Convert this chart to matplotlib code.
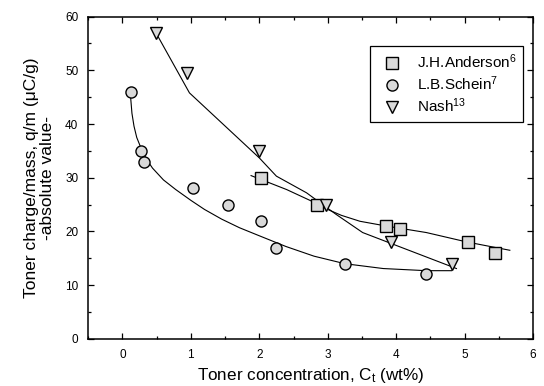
import matplotlib
matplotlib.use('Agg')
import matplotlib.pyplot as plt
from matplotlib.ticker import MultipleLocator

plt.rcParams['font.family'] = ['Liberation Sans', 'DejaVu Sans']
plt.rcParams['mathtext.fontset'] = 'custom'
plt.rcParams['mathtext.rm'] = 'Liberation Sans'
plt.rcParams['mathtext.it'] = 'Liberation Sans'

# measured points
ANDERSON_X = [2.03, 2.84, 3.85, 4.05, 5.05, 5.45]
ANDERSON_Y = [30.0, 25.0, 21.0, 20.5, 18.0, 16.0]
SCHEIN_X = [0.12, 0.27, 0.31, 1.03, 1.54, 2.03, 2.24, 3.25, 4.43]
SCHEIN_Y = [46.0, 35.0, 33.0, 28.0, 25.0, 22.0, 17.0, 14.0, 12.0]
NASH_X = [0.49, 0.95, 2.0, 2.98, 3.93, 4.81]
NASH_Y = [57.0, 49.5, 35.0, 25.0, 18.0, 14.0]

# fitted lines
ANDERSON_FIT_X = [1.88, 2.40, 2.84, 2.98, 3.2, 3.47, 3.86, 4.44, 5.03, 5.66]
ANDERSON_FIT_Y = [30.4, 27.8, 25.2, 24.2, 23.0, 21.9, 21.0, 19.8, 18.05, 16.5]
SCHEIN_FIT_X = [0.12, 0.14, 0.17, 0.21, 0.27, 0.35, 0.44, 0.6, 0.78, 1.0, 1.2,
                1.45, 1.71, 2.0, 2.39, 2.8, 3.25, 3.81, 4.44, 4.81]
SCHEIN_FIT_Y = [45.1, 42.0, 39.6, 37.5, 35.6, 33.5, 31.8, 29.6, 27.8, 25.8, 24.1,
                22.3, 20.7, 19.2, 17.2, 15.4, 14.0, 13.1, 12.7, 12.7]
NASH_FIT_X = [0.49, 0.98, 2.0, 2.25, 2.69, 3.12, 3.51, 4.88]
NASH_FIT_Y = [57.0, 45.8, 33.7, 30.3, 27.2, 23.2, 19.8, 13.1]

fig = plt.figure(figsize=(5.44, 3.86), dpi=100)
ax = fig.add_axes([0.162, 0.122, 0.818, 0.835])

ax.plot(ANDERSON_FIT_X, ANDERSON_FIT_Y, color='black', lw=0.8)
ax.plot(SCHEIN_FIT_X, SCHEIN_FIT_Y, color='black', lw=0.8)
ax.plot(NASH_FIT_X, NASH_FIT_Y, color='black', lw=0.8)

mk = dict(linestyle='none', markerfacecolor='#d9d9d9', markeredgecolor='black',
          markeredgewidth=1.0, markersize=8)
ax.plot(ANDERSON_X, ANDERSON_Y, marker='s', label='J.H.Anderson$^6$', **mk)
ax.plot(SCHEIN_X, SCHEIN_Y, marker='o', label='L.B.Schein$^7$', **mk)
ax.plot(NASH_X, NASH_Y, marker='v', label='Nash$^{13}$', **mk)

ax.set_xlim(-0.5, 6)
ax.set_ylim(0, 60)
ax.xaxis.set_major_locator(MultipleLocator(1))
ax.xaxis.set_minor_locator(MultipleLocator(0.5))
ax.yaxis.set_major_locator(MultipleLocator(10))
ax.yaxis.set_minor_locator(MultipleLocator(5))
ax.tick_params(which='both', direction='in', top=True, right=True, labelsize=8.5, width=0.9)
ax.tick_params(which='major', length=4)
ax.tick_params(which='minor', length=2)
ax.tick_params(axis='x', pad=7)
ax.tick_params(axis='y', pad=7)
for s in ax.spines.values():
    s.set_linewidth(1.1)

ax.set_xlabel('Toner concentration, C$_\\mathrm{t}$ (wt%)', fontsize=12.3, labelpad=4)
ax.set_ylabel('Toner charge/mass, q/m (\u03bcC/g)\n-absolute value-', fontsize=12.5,
              labelpad=7, linespacing=1.15, multialignment='center')

leg = ax.legend(loc='upper right', bbox_to_anchor=(0.978, 0.91), fontsize=11,
                fancybox=False, framealpha=1, edgecolor='black', borderpad=0.45,
                handletextpad=0.6, labelspacing=0.22, borderaxespad=0)
leg.get_frame().set_linewidth(0.9)

fig.savefig('out.png', dpi=100)
